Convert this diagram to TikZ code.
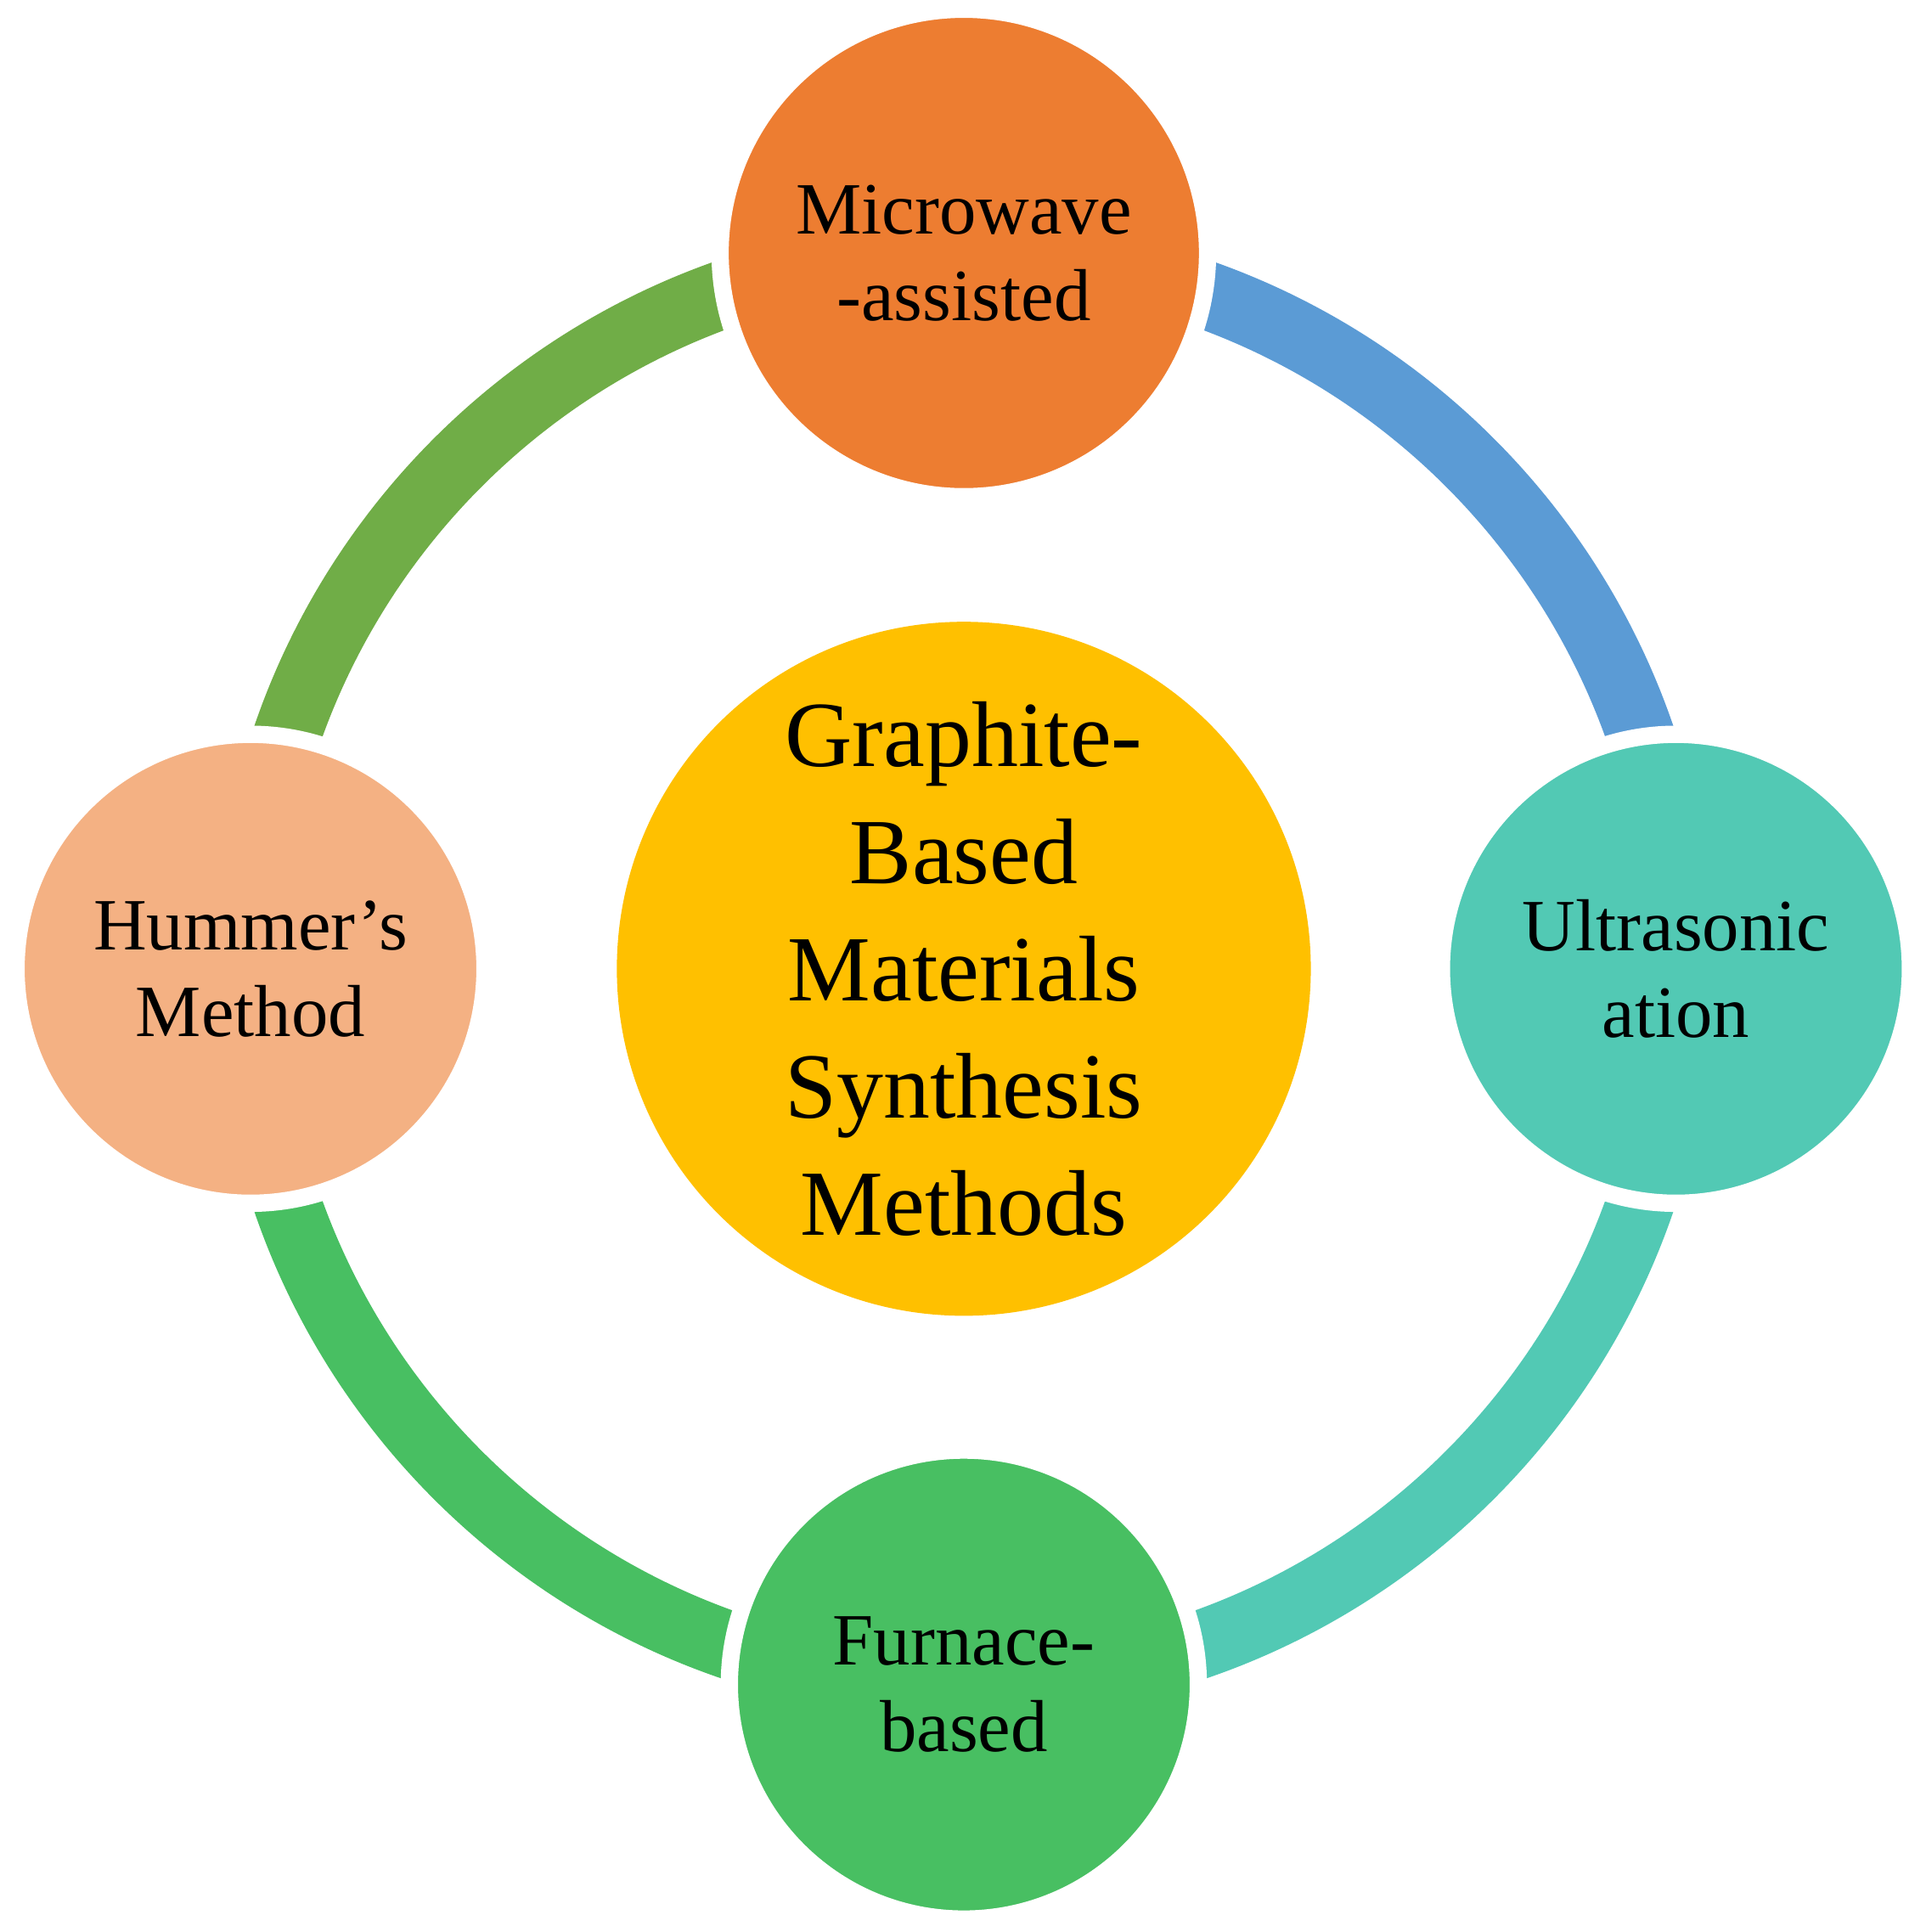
\documentclass[tikz,border=0pt]{standalone}
\usepackage{fontspec}
\setmainfont{Liberation Serif}
\usetikzlibrary{positioning}
\definecolor{orangeC}{HTML}{ED7D31}
\definecolor{tealC}{HTML}{52C9B4}
\definecolor{peachC}{HTML}{F4B183}
\definecolor{greenC}{HTML}{48BF62}
\definecolor{goldC}{HTML}{FFC000}
\definecolor{leafC}{HTML}{70AD47}
\definecolor{skyC}{HTML}{5B9BD5}
\tikzset{
  method/.style={circle, draw=white, line width=1.4mm, inner sep=0pt,
    minimum size=3.8cm, text width=3.4cm, align=center,
    font=\fontsize{17}{20}\selectfont},
  ring/.style={line width=5.5mm}
}
\begin{document}
\begin{tikzpicture}
\useasboundingbox (0,0) rectangle (15.6,-15.655);
% Ring segments
\coordinate (hub) at (7.81,-7.85);
\coordinate (topP) at (7.81,-2.05);
\coordinate (botP) at (7.81,-13.65);
\draw[ring, skyC] (topP) arc[start angle=90, end angle=0, radius=5.8];
\draw[ring, leafC] (topP) arc[start angle=90, end angle=180, radius=5.8];
\draw[ring, tealC] (botP) arc[start angle=-90, end angle=0, radius=5.8];
\draw[ring, greenC] (botP) arc[start angle=-90, end angle=-180, radius=5.8];
% The circles
\node[circle, fill=goldC, inner sep=0pt, minimum size=5.4cm, text width=3.6cm,
  align=center, font=\fontsize{21.5}{27}\selectfont] (core) at (hub)
  {Graphite-\\Based\\Materials\\Synthesis\\Methods};
\node[method, fill=orangeC, minimum size=3.95cm] (mw) at (topP) {Microwave\\-assisted};
\node[method, fill=tealC] (us) at (13.58,-7.85) {Ultrasonic\\ation};
\node[method, fill=greenC] (fb) at (botP) {Furnace-\\based};
\node[method, fill=peachC] (hm) at (2.03,-7.85) {Hummer's\\Method};
\end{tikzpicture}
\end{document}
